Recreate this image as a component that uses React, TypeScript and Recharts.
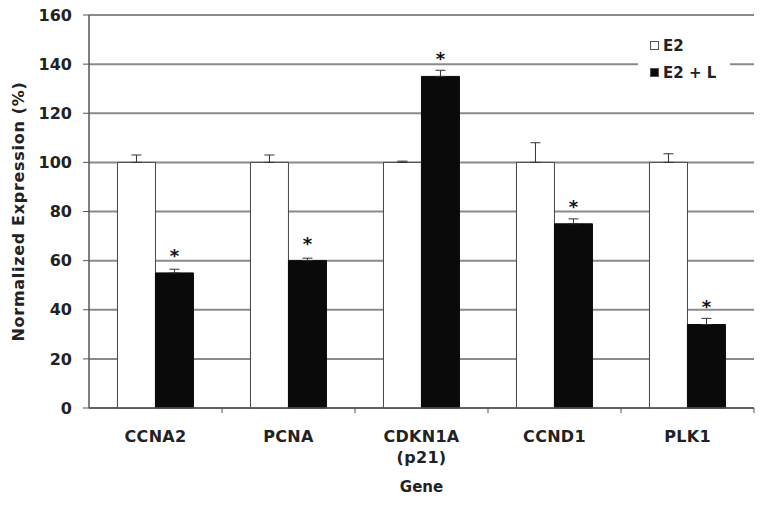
import { BarChart, Bar, XAxis, YAxis, CartesianGrid, ErrorBar, LabelList, Legend, Label } from "recharts";

const genes = ["CCNA2", "PCNA", "CDKN1A (p21)", "CCND1", "PLK1"];
const e2Values = [100, 100, 100, 100, 100];
const e2Errors = [3, 3, 0.5, 8, 3.5];
const e2lValues = [55, 60, 135, 75, 34];
const e2lErrors = [1.5, 1, 2.5, 2, 2.5];
const significant = [true, true, true, true, true];
const yTicks = [0, 20, 40, 60, 80, 100, 120, 140, 160];

const FONT = "'DejaVu Sans', Verdana, sans-serif";
const TEXT = "#222";

// one row per gene, error bars only go up (lower = 0)
const data = genes.map((gene, i) => ({
  gene,
  e2: e2Values[i],
  e2Err: [0, e2Errors[i]],
  e2l: e2lValues[i],
  e2lErr: [0, e2lErrors[i]],
  star: significant[i] ? "*" : "",
}));

const GeneTick = (props: any) => {
  const { x, y, payload } = props;
  const lines = String(payload.value).split(" ");
  const half = payload.offset ?? 0;
  return (
    <g>
      {half > 0 && <line x1={x + half} x2={x + half} y1={y} y2={y + 5} stroke="#555" strokeWidth={1} />}
      {lines.map((line, i) => (
        <text
          key={i}
          x={x}
          y={y + 34 + i * 21}
          textAnchor="middle"
          fontFamily={FONT}
          fontWeight="bold"
          fontSize={16}
          letterSpacing={0.3}
          fill={TEXT}
        >
          {line}
        </text>
      ))}
    </g>
  );
};

const renderStar = (props: any) => {
  const { x, y, width, value } = props;
  if (!value) return null;
  return (
    <text x={x + width / 2} y={y - 11} textAnchor="middle" fontFamily={FONT} fontWeight="bold" fontSize={18} fill="#111">
      {value}
    </text>
  );
};

const renderLegend = (props: any) => {
  const { payload } = props;
  return (
    <div style={{ background: "#fff", padding: "4px 0 4px 12px", fontFamily: FONT, fontWeight: "bold", fontSize: 15, color: TEXT }}>
      {payload.map((entry: any) => (
        <div key={entry.value} style={{ display: "flex", alignItems: "center", height: 27 }}>
          <span
            style={{
              display: "inline-block",
              width: 7,
              height: 7,
              marginRight: 4,
              background: entry.color,
              border: "1px solid #555",
            }}
          />
          {entry.value}
        </div>
      ))}
    </div>
  );
};

export default function App() {
  return (
    <div style={{ position: "absolute", left: 0, top: 0, width: 766, height: 505, background: "#fff" }}>
      <BarChart
        width={766}
        height={505}
        data={data}
        margin={{ top: 15, right: 12, bottom: 0, left: 0 }}
        barCategoryGap="21.4%"
        barGap={0}
      >
        <CartesianGrid vertical={false} stroke="#8a8a8a" strokeWidth={2} />
        <XAxis
          dataKey="gene"
          height={97}
          interval={0}
          tickLine={false}
          tickMargin={0}
          tickSize={0}
          axisLine={{ stroke: "#555", strokeWidth: 1.5 }}
          tick={<GeneTick />}
        >
          <Label
            content={(p: any) => {
              const vb = p.viewBox;
              return (
                <text x={vb.x + vb.width / 2} y={vb.y + 84} textAnchor="middle" fontFamily={FONT} fontWeight="bold" fontSize={15} fill={TEXT}>
                  Gene
                </text>
              );
            }}
          />
        </XAxis>
        <YAxis
          width={89}
          domain={[0, 160]}
          ticks={yTicks}
          tickSize={6}
          tickMargin={11}
          tickLine={{ stroke: "#555" }}
          axisLine={{ stroke: "#555", strokeWidth: 1.5 }}
          tick={{ fontFamily: FONT, fontWeight: "bold", fontSize: 16, fill: TEXT }}
        >
          <Label
            content={(p: any) => {
              const vb = p.viewBox;
              const cx = 18;
              const cy = vb.y + vb.height / 2;
              return (
                <text
                  x={cx}
                  y={cy}
                  transform={`rotate(-90, ${cx}, ${cy})`}
                  textAnchor="middle"
                  dominantBaseline="central"
                  fontFamily={FONT}
                  fontWeight="bold"
                  fontSize={16}
                  letterSpacing={0.7}
                  fill={TEXT}
                >
                  Normalized Expression (%)
                </text>
              );
            }}
          />
        </YAxis>
        <YAxis
          yAxisId="frame"
          orientation="right"
          width={0}
          domain={[0, 160]}
          tick={false}
          tickLine={false}
          axisLine={{ stroke: "#777", strokeWidth: 1.5 }}
        />
        <Legend
          layout="horizontal"
          verticalAlign="middle"
          align="center"
          content={renderLegend}
          wrapperStyle={{ left: 638, top: 28, width: 92 }}
        />
        <Bar dataKey="e2" name="E2" fill="#fff" stroke="#444" strokeWidth={1} isAnimationActive={false}>
          <ErrorBar dataKey="e2Err" width={5} stroke="#333" strokeWidth={1} direction="y" />
        </Bar>
        <Bar dataKey="e2l" name="E2 + L" fill="#0a0a0a" stroke="#0a0a0a" isAnimationActive={false}>
          <ErrorBar dataKey="e2lErr" width={5} stroke="#333" strokeWidth={1} direction="y" />
          <LabelList dataKey="star" content={renderStar} />
        </Bar>
      </BarChart>
    </div>
  );
}
